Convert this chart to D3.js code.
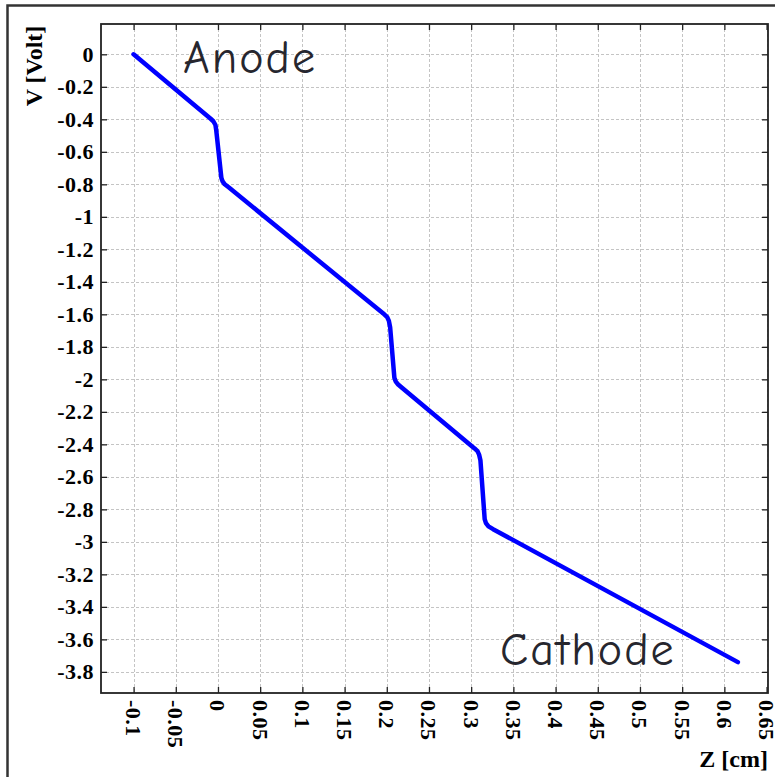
<!DOCTYPE html>
<html>
<head>
<meta charset="utf-8">
<script src="https://cdn.jsdelivr.net/npm/d3@7"></script>
<style>
  html, body { margin: 0; padding: 0; background: #fff; }
  svg { display: block; }
</style>
</head>
<body>
<svg id="chart" width="775" height="777"></svg>
<script>
// Potential profile along the cell, Z in cm, V in volts
const zValues = [-0.1, -0.009, -0.0055, -0.003, -0.002, 0.004, 0.0055, 0.008, 0.013,
                 0.197, 0.2005, 0.2025, 0.204, 0.209, 0.2105, 0.2135, 0.218,
                 0.304, 0.3075, 0.3095, 0.311, 0.316, 0.3175, 0.3205, 0.326, 0.616];
const vValues = [0, -0.395, -0.412, -0.435, -0.47, -0.76, -0.782, -0.8, -0.82,
                 -1.6, -1.617, -1.64, -1.68, -1.99, -2.012, -2.032, -2.052,
                 -2.425, -2.442, -2.465, -2.5, -2.86, -2.885, -2.905, -2.922, -3.74];

const xTicks = [-0.1, -0.05, 0, 0.05, 0.1, 0.15, 0.2, 0.25, 0.3, 0.35, 0.4, 0.45, 0.5, 0.55, 0.6, 0.65];
const xTickLabels = ["-0.1", "-0.05", "0", "0.05", "0.1", "0.15", "0.2", "0.25", "0.3", "0.35", "0.4", "0.45", "0.5", "0.55", "0.6", "0.65"];
const yTicks = [0, -0.2, -0.4, -0.6, -0.8, -1, -1.2, -1.4, -1.6, -1.8, -2, -2.2, -2.4, -2.6, -2.8, -3, -3.2, -3.4, -3.6, -3.8];
const yTickLabels = ["0", "-0.2", "-0.4", "-0.6", "-0.8", "-1", "-1.2", "-1.4", "-1.6", "-1.8", "-2", "-2.2", "-2.4", "-2.6", "-2.8", "-3", "-3.2", "-3.4", "-3.6", "-3.8"];

const xDomain = [-0.1386, 0.6517];
const yDomain = [-3.93, 0.1865];

const svg = d3.select("#chart");
const plotLeft = 101, plotRight = 768, plotTop = 24, plotBottom = 693;

const x = d3.scaleLinear().domain(xDomain).range([plotLeft, plotRight]);
const y = d3.scaleLinear().domain(yDomain).range([plotBottom, plotTop]);

// outer frame
svg.append("rect")
  .attr("x", 7.5).attr("y", 5.5)
  .attr("width", 790).attr("height", 790)
  .attr("fill", "none").attr("stroke", "#333").attr("stroke-width", 2.5);

// grid
const grid = svg.append("g").attr("stroke", "#c4c4c4").attr("stroke-width", 1)
  .attr("stroke-dasharray", "3,2");
grid.selectAll("line.v").data(xTicks).join("line").attr("class", "v")
  .attr("x1", d => Math.round(x(d)) + 0.5).attr("x2", d => Math.round(x(d)) + 0.5)
  .attr("y1", plotTop).attr("y2", plotBottom);
grid.selectAll("line.h").data(yTicks).join("line").attr("class", "h")
  .attr("y1", d => Math.round(y(d)) + 0.5).attr("y2", d => Math.round(y(d)) + 0.5)
  .attr("x1", plotLeft).attr("x2", plotRight);

// axes with inward ticks on all sides
const tickStyle = g => {
  g.select(".domain").remove();
  g.selectAll(".tick line").attr("stroke", "#222").attr("stroke-width", 1.3);
  g.selectAll(".tick text").remove();
};
svg.append("g").attr("transform", `translate(0,${plotBottom})`)
  .call(d3.axisBottom(x).tickValues(xTicks).tickSize(-6)).call(tickStyle);
svg.append("g").attr("transform", `translate(0,${plotTop})`)
  .call(d3.axisTop(x).tickValues(xTicks).tickSize(-6)).call(tickStyle);
svg.append("g").attr("transform", `translate(${plotLeft},0)`)
  .call(d3.axisLeft(y).tickValues(yTicks).tickSize(-6)).call(tickStyle);
svg.append("g").attr("transform", `translate(${plotRight},0)`)
  .call(d3.axisRight(y).tickValues(yTicks).tickSize(-6)).call(tickStyle);

svg.append("rect")
  .attr("x", plotLeft).attr("y", plotTop)
  .attr("width", plotRight - plotLeft).attr("height", plotBottom - plotTop)
  .attr("fill", "none").attr("stroke", "#222").attr("stroke-width", 1.8);

// tick labels
const labelFont = "'Liberation Serif', 'Times New Roman', serif";
svg.append("g").selectAll("text").data(yTicks).join("text")
  .attr("x", plotLeft - 7).attr("y", d => y(d))
  .attr("text-anchor", "end").attr("dominant-baseline", "central")
  .attr("font-family", labelFont).attr("font-weight", "bold").attr("font-size", 22)
  .attr("letter-spacing", 0.5)
  .attr("fill", "#000")
  .text((d, i) => yTickLabels[i]);

svg.append("g").selectAll("text").data(xTicks).join("text")
  .attr("transform", d => `translate(${x(d)},${plotBottom + 7}) rotate(90)`)
  .attr("text-anchor", "start").attr("dominant-baseline", "central")
  .attr("font-family", labelFont).attr("font-weight", "bold").attr("font-size", 22)
  .attr("letter-spacing", 0.5)
  .attr("fill", "#000")
  .text((d, i) => xTickLabels[i]);

// axis titles
svg.append("text")
  .attr("transform", `translate(42,66) rotate(-90)`)
  .attr("text-anchor", "middle")
  .attr("font-family", labelFont).attr("font-weight", "bold").attr("font-size", 24)
  .attr("fill", "#000")
  .text("V [Volt]");
svg.append("text")
  .attr("x", 768).attr("y", 767)
  .attr("text-anchor", "end")
  .attr("font-family", labelFont).attr("font-weight", "bold").attr("font-size", 24)
  .attr("fill", "#000")
  .text("Z [cm]");

// potential curve
const pts = zValues.map((z, i) => [z, vValues[i]]);
const line = d3.line().x(d => x(d[0])).y(d => y(d[1]));
svg.append("path")
  .datum(pts)
  .attr("d", line)
  .attr("fill", "none").attr("stroke", "#0000ff").attr("stroke-width", 4.5)
  .attr("stroke-linejoin", "round").attr("stroke-linecap", "round");

// electrode annotations
const noteFont = "'Comic Sans MS', 'Comic Neue', 'Open Sans', sans-serif";
svg.append("text")
  .attr("x", 183).attr("y", 73)
  .attr("font-family", noteFont).attr("font-size", 46).attr("letter-spacing", 2)
  .attr("fill", "#26262e")
  .text("Anode");
svg.append("text")
  .attr("x", 500).attr("y", 665)
  .attr("font-family", noteFont).attr("font-size", 46).attr("letter-spacing", 2)
  .attr("fill", "#26262e")
  .text("Cathode");
</script>
</body>
</html>
